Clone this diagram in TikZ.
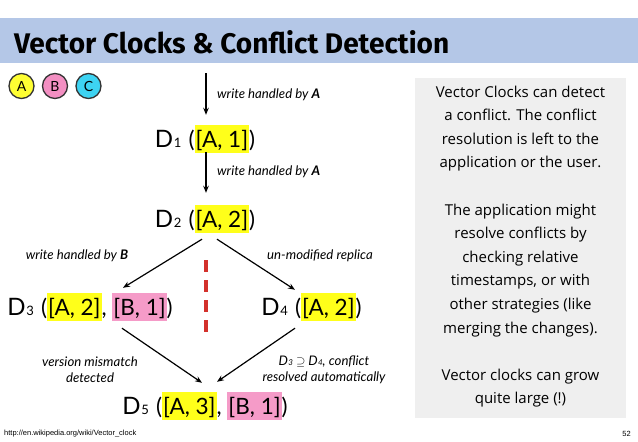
\documentclass[tikz,border=0pt]{standalone}
\usepackage{fontspec}
\usetikzlibrary{arrows.meta,calc}
\setmainfont{Lato}
\newfontfamily\titlefont{Fira Sans Bold}
\newfontfamily\notefont{Open Sans}
\newfontfamily\footfont{Liberation Sans}
\definecolor{titleblue}{HTML}{B4C7E7}
\definecolor{boxgray}{HTML}{EFEFEF}
\definecolor{hly}{HTML}{FFFF1A}
\definecolor{hlp}{HTML}{F59BC8}
\definecolor{cya}{HTML}{FFFF33}
\definecolor{cpb}{HTML}{F38FC2}
\definecolor{cpc}{HTML}{3DD3F2}
\definecolor{dashred}{HTML}{D3312C}
\newcommand{\hlbox}[2]{{\setlength{\fboxsep}{0pt}\colorbox{#1}{\rule[-6pt]{0pt}{28pt}\kern1pt #2\kern1pt}}}
\newcommand{\Dn}[1]{{\fontsize{24}{24}\selectfont D}\kern0.8pt{\fontsize{13}{13}\selectfont #1}\kern1.5pt\relax}
\newcommand{\Ds}[1]{D\kern0.3pt{\fontsize{8}{8}\selectfont #1}}
\tikzset{
  dnode/.style={inner sep=0pt, anchor=base, font=\fontsize{22.5}{22.5}\selectfont},
  lbl/.style={inner sep=0pt, font=\fontsize{13.2}{16}\selectfont\itshape},
  arr/.style={-{Stealth[length=7pt,width=5.5pt]}, line width=1.2pt},
  proc/.style={circle, draw=black!80, line width=1.3pt, minimum size=25pt, inner sep=0pt, font=\fontsize{14}{14}\selectfont}
}
\begin{document}
\begin{tikzpicture}[x=1pt,y=-1pt]
\useasboundingbox (0,0) rectangle (638,442);
% title bar
\fill[titleblue] (0,18) rectangle (638,63);
\node[anchor=base west, inner sep=0pt] (title) at (14,53) {\resizebox{435pt}{23pt}{\titlefont Vector Clocks \& Conflict Detection}};
% gray note box
\fill[boxgray] (415,78) rectangle (626,418);
\node[inner sep=0pt, align=center, font=\notefont\fontsize{15}{23.6}\selectfont] (note) at (520.5,246.5) {%
Vector Clocks can detect\\ a conflict. The conflict\\ resolution is left to the\\ application or the user.\\ ~\\
The application might\\ resolve conflicts by\\ checking relative\\ timestamps, or with\\ other strategies (like\\ merging the changes).\\ ~\\
Vector clocks can grow\\ quite large (!)};
% process circles
\node[proc, fill=cya] (pa) at (21.5,86) {A};
\node[proc, fill=cpb] (pb) at (55,86) {B};
\node[proc, fill=cpc] (pc) at (88.5,86) {C};
% version nodes
\node[dnode] (D1) at (205,147) {\Dn{1} (\hlbox{hly}{[A, 1]})};
\node[dnode] (D2) at (205,227) {\Dn{2} (\hlbox{hly}{[A, 2]})};
\node[dnode] (D3) at (90,315) {\Dn{3} (\hlbox{hly}{[A, 2]}, \hlbox{hlp}{[B, 1]})};
\node[dnode] (D4) at (311.5,315) {\Dn{4} (\hlbox{hly}{[A, 2]})};
\node[dnode] (D5) at (205,414) {\Dn{5} (\hlbox{hly}{[A, 3]}, \hlbox{hlp}{[B, 1]})};
% arrows
\coordinate (start) at (206,73);
\draw[arr] (start) -- ([xshift=1pt,yshift=10pt]D1.north);
\draw[arr] ([xshift=1pt,yshift=1pt]D1.south) -- ([xshift=1pt,yshift=12pt]D2.north);
\draw[arr] ([xshift=-3pt,yshift=-6pt]D2.south) -- ([xshift=33pt,yshift=5pt]D3.north);
\draw[arr] ([xshift=12pt,yshift=-6pt]D2.south) -- ([xshift=-16.5pt,yshift=3pt]D4.north);
\draw[arr] ([xshift=32pt,yshift=-7pt]D3.south) -- ([xshift=-3pt,yshift=9pt]D5.north);
\draw[arr] ([xshift=-16.5pt,yshift=-7pt]D4.south) -- ([xshift=12pt,yshift=10pt]D5.north);
% red dashed separator
\draw[dashred, line width=4pt, dash pattern=on 12pt off 8pt] (206,260) -- (206,332);
% labels
\node[lbl, anchor=west] (l1) at (217,95) {write handled by \textbf{A}};
\node[lbl, anchor=west] (l2) at (217,172) {write handled by \textbf{A}};
\node[lbl] (l3) at (77,256) {write handled by \textbf{B}};
\node[lbl] (l4) at (320,256) {un-modified replica};
\node[lbl, align=center] (l5) at (90,370) {version mismatch\\ detected};
\node[lbl, align=center] (l6) at (324,370) {\Ds{3} $\supseteq$ \Ds{4}, conflict\\ resolved automatically};
% footer
\node[anchor=west, inner sep=0pt, font=\footfont\fontsize{7.5}{8}\selectfont] (src) at (4,434) {http://en.wikipedia.org/wiki/Vector\_clock};
\node[anchor=east, inner sep=0pt, font=\footfont\fontsize{7.5}{8}\selectfont] (pg) at (631,434) {52};
\end{tikzpicture}
\end{document}
